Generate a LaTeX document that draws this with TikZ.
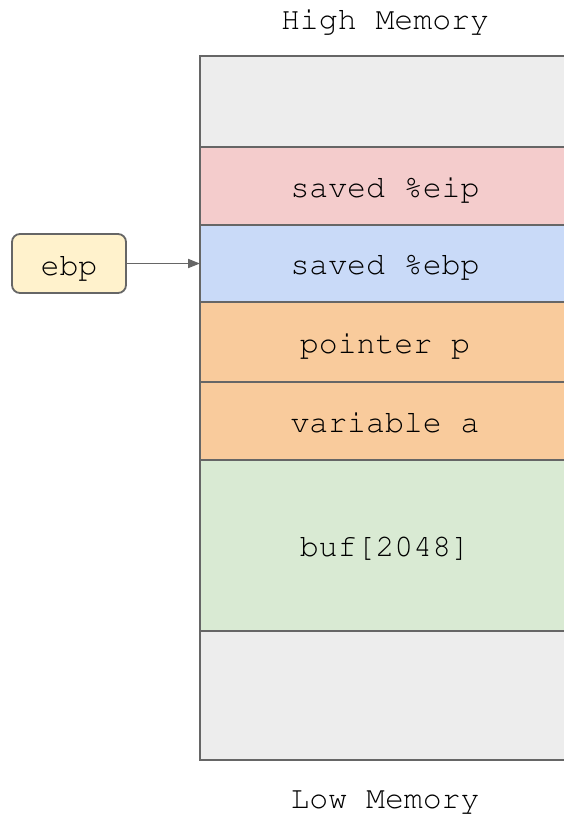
\documentclass[tikz,border=0pt]{standalone}
\usepackage[T1]{fontenc}
\renewcommand{\ttdefault}{pcr}
\usetikzlibrary{arrows.meta}
\definecolor{edge}{HTML}{666666}
\definecolor{freemem}{HTML}{EDEDED}
\definecolor{eipfill}{HTML}{F4CCCC}
\definecolor{ebpfill}{HTML}{C9DAF8}
\definecolor{varfill}{HTML}{F9CB9C}
\definecolor{buffill}{HTML}{D9EAD3}
\definecolor{regfill}{HTML}{FFF2CC}
\definecolor{ink}{HTML}{000000}
\begin{document}
\begin{tikzpicture}[x=1pt,y=-1pt,
  every node/.style={font=\ttfamily\fontsize{31.5}{36}\selectfont, text=ink},
  slot/.style={draw=edge, line width=1.8pt, rectangle, anchor=north west,
    outer sep=0pt, minimum width=370pt, inner sep=0pt,
    text height=22pt, text depth=0pt},
  label/.style={inner sep=0pt, anchor=base},
  register/.style={draw=edge, line width=1.8pt, rounded corners=8pt,
    fill=regfill, minimum width=114pt, minimum height=59pt, inner sep=0pt,
    outer sep=0pt, text height=23pt, text depth=0pt},
  pointer/.style={draw=edge, line width=1.8pt, -{Triangle[length=12pt,width=9pt]}}]
\useasboundingbox (0,0) rectangle (564,815);
\clip (0,0) rectangle (564,815);

% memory labels
\node[label] (high) at (385,29.5) {High Memory};
\node[label] (low) at (385,808) {Low Memory};

% stack slots, from high to low addresses
\node[slot, fill=freemem, minimum height=91pt] (top) at (200,56) {};
\node[slot, fill=eipfill, minimum height=78pt] (eip) at (200,147) {saved \%eip};
\node[slot, fill=ebpfill, minimum height=77pt] (sebp) at (200,225) {saved \%ebp};
\node[slot, fill=varfill, minimum height=80pt] (ptr) at (200,302) {pointer p};
\node[slot, fill=varfill, minimum height=78pt] (vara) at (200,382) {variable a};
\node[slot, fill=buffill, minimum height=171pt] (buf) at (200,460) {buf[2048]};
\node[slot, fill=freemem, minimum height=129pt] (bottom) at (200,631) {};

% frame pointer register
\node[register] (ebp) at (69,263.5) {ebp};
\draw[pointer] (ebp.east) -- (sebp.west);
\end{tikzpicture}
\end{document}
